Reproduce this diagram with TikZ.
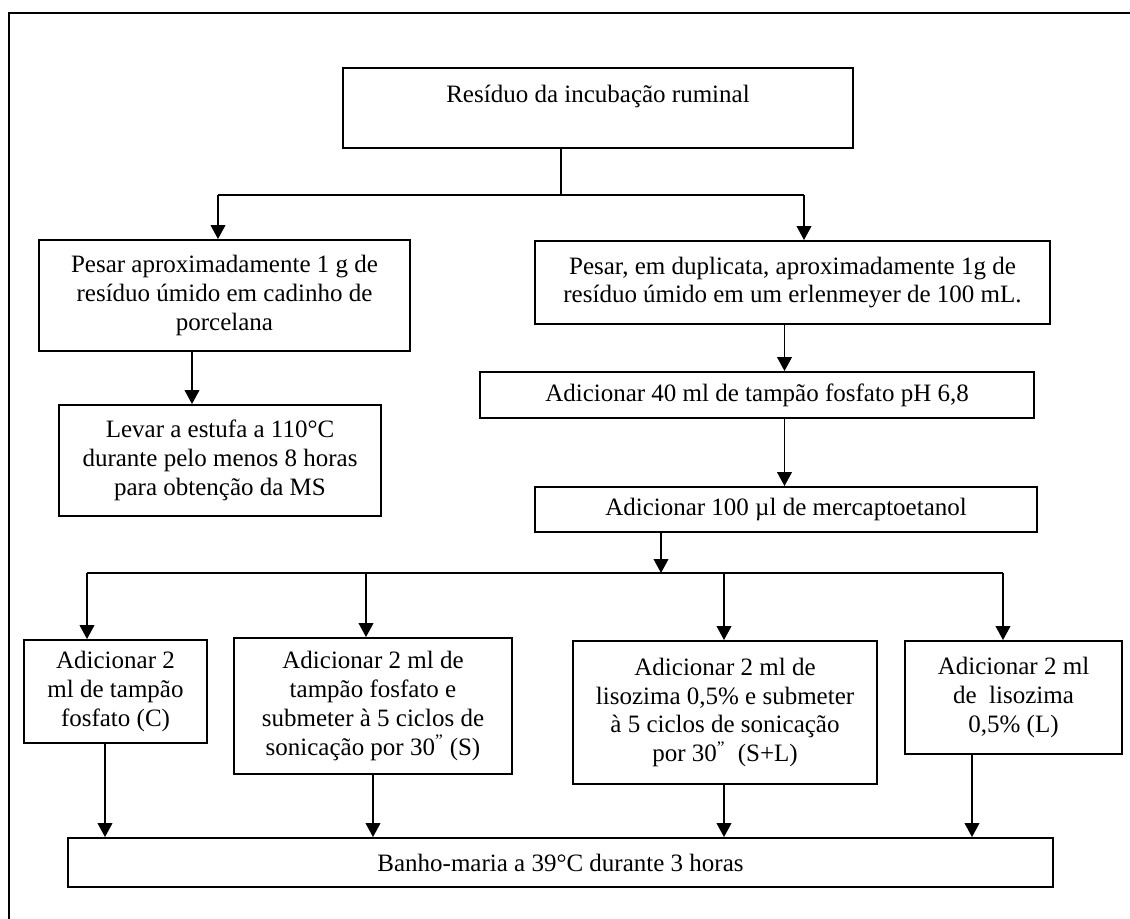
\documentclass[tikz,border=0pt]{standalone}
\usepackage{fontspec}
\setmainfont{Liberation Serif}
\usetikzlibrary{arrows.meta}
\begin{document}
\begin{tikzpicture}[x=0.75pt,y=-0.75pt,
  box/.style={draw, line width=1.4pt, align=center, inner sep=0pt,
    font=\fontsize{18.75pt}{21.6pt}\selectfont},
  txt/.style={inner sep=0pt, font=\fontsize{18.75pt}{21.6pt}\selectfont},
  ln/.style={line width=1.3pt},
  arr/.style={line width=1.3pt, -{Triangle[length=10.5pt,width=11pt]}}]
\useasboundingbox (0,0) rectangle (1130,918);
\draw[ln] (9,930) -- (9,13) -- (1140,13);

\node[box, minimum width=510*0.75pt, minimum height=80*0.75pt] (top) at (598,108) {};
\node[txt, anchor=base] (toptext) at (598,102) {Resíduo da incubação ruminal};

\node[box, minimum width=371*0.75pt, minimum height=111*0.75pt] (left1) at (224.5,295.5)
  {Pesar aproximadamente 1 g de\\resíduo úmido em cadinho de\\porcelana};
\node[box, minimum width=322*0.75pt, minimum height=111*0.75pt] (levar) at (220,460.5)
  {Levar a estufa a 110°C\\durante pelo menos 8 horas\\para obtenção da MS};
\node[box, minimum width=515*0.75pt, minimum height=83*0.75pt] (right1) at (792.5,282.5)
  {Pesar, em duplicata, aproximadamente 1g de\\resíduo úmido em um erlenmeyer de 100 mL.};
\node[box, minimum width=554*0.75pt, minimum height=46*0.75pt] (add40) at (757,395)
  {Adicionar 40 ml de tampão fosfato pH 6,8};
\node[box, minimum width=502*0.75pt, minimum height=45*0.75pt] (add100) at (786,509.5)
  {Adicionar 100 µl de mercaptoetanol};
\node[box, minimum width=183*0.75pt, minimum height=103*0.75pt] (C) at (115.5,691.5)
  {Adicionar 2\\ml de tampão\\fosfato (C)};
\node[box, minimum width=278*0.75pt, minimum height=136*0.75pt] (S) at (373,706)
  {Adicionar 2 ml de\\tampão fosfato e\\submeter à 5 ciclos de\\sonicação por 30\textsuperscript{''}\ (S)};
\node[box, minimum width=304*0.75pt, minimum height=143*0.75pt] (SL) at (725,712.5)
  {Adicionar 2 ml de\\lisozima 0,5\% e submeter\\à 5 ciclos de sonicação\\por 30\textsuperscript{''}\ \ (S+L)};
\node[box, minimum width=217*0.75pt, minimum height=113*0.75pt] (L) at (1013.5,697.5)
  {Adicionar 2 ml\\de\ \ lisozima\\0,5\% (L)};
\node[box, minimum width=985*0.75pt, minimum height=49*0.75pt] (banho) at (560.5,862.5)
  {Banho-maria a 39°C durante 3 horas};

% first split
\coordinate (j1) at (561,195);
\coordinate (jl) at (218,195);
\coordinate (jr) at (804,195);
\draw[ln] (j1 |- top.south) -- (j1);
\draw[ln] (jl) -- (jr);
\draw[arr] (jl) -- (jl |- left1.north);
\draw[arr] (jr) -- (jr |- right1.north);

% left column
\coordinate (xa) at (192,0);
\draw[arr] (xa |- left1.south) -- (xa |- levar.north);

% right column
\coordinate (xb) at (784.5,0);
\draw[arr] (xb |- right1.south) -- (xb |- add40.north);
\draw[arr] (xb |- add40.south) -- (xb |- add100.north);

% second split
\coordinate (b0) at (661,573);
\coordinate (bc) at (87,573);
\coordinate (bs) at (366,573);
\coordinate (bsl) at (724,573);
\coordinate (bl) at (1003,573);
\draw[arr] (b0 |- add100.south) -- (b0);
\draw[ln] (bc) -- (bl);
\draw[arr] (bc) -- (bc |- C.north);
\draw[arr] (bs) -- (bs |- S.north);
\draw[arr] (bsl) -- (bsl |- SL.north);
\draw[arr] (bl) -- (bl |- L.north);

% to bath
\coordinate (dc) at (105,0);
\coordinate (ds) at (373,0);
\coordinate (dsl) at (724,0);
\coordinate (dl) at (972,0);
\draw[arr] (dc |- C.south) -- (dc |- banho.north);
\draw[arr] (ds |- S.south) -- (ds |- banho.north);
\draw[arr] (dsl |- SL.south) -- (dsl |- banho.north);
\draw[arr] (dl |- L.south) -- (dl |- banho.north);
\end{tikzpicture}
\end{document}
